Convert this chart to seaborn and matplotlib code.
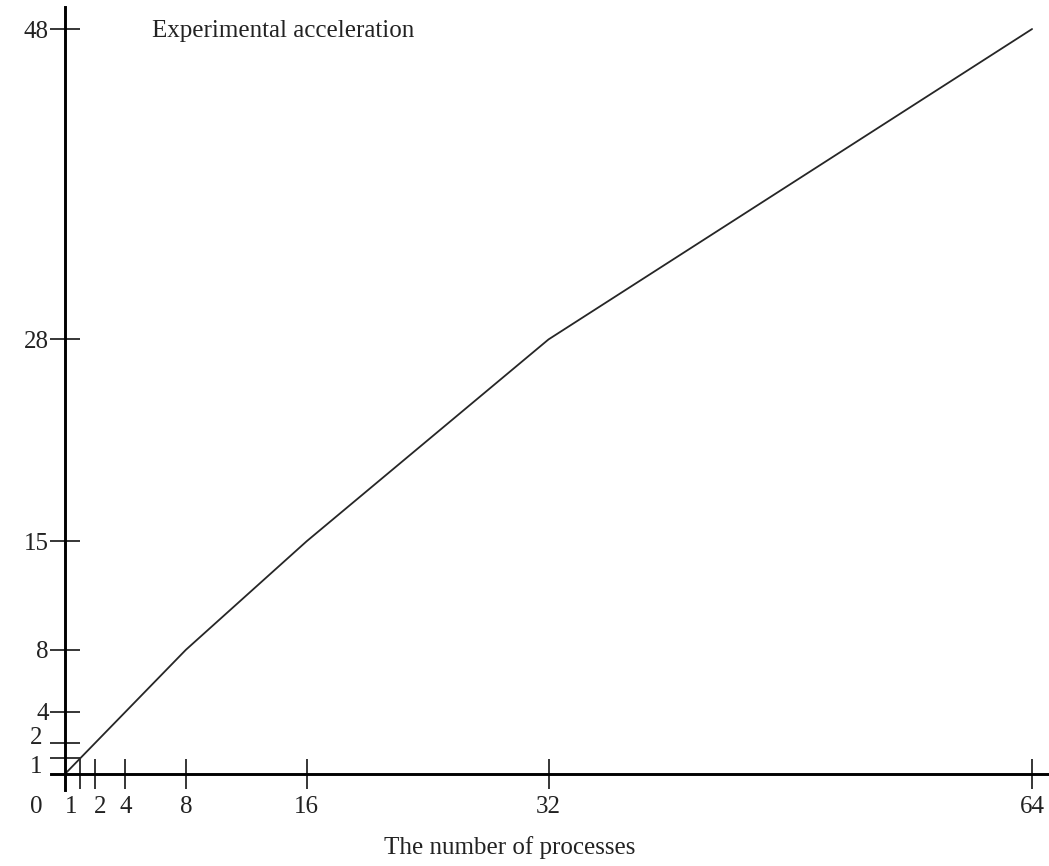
import matplotlib
matplotlib.use("Agg")
import pandas as pd
import seaborn as sns
import matplotlib.pyplot as plt

# data
processes = [0, 1, 2, 4, 8, 16, 32, 64]
acceleration = [0, 1, 2, 4, 8, 15, 28, 48]
x_ticks = [1, 2, 4, 8, 16, 32, 64]
y_ticks = [1, 2, 4, 8, 15, 28, 48]

df = pd.DataFrame({'processes': processes, 'acceleration': acceleration})

sns.set_style('white')
plt.rcParams['font.family'] = ['Liberation Serif', 'DejaVu Serif']

fig = plt.figure(figsize=(10.49, 8.66), dpi=100)
ax = fig.add_axes([0, 0, 1, 1])

sns.lineplot(x='processes', y='acceleration', data=df, ax=ax,
             color='#262626', linewidth=1.3)

# axis limits so the origin lands where the reference puts it
ax.set_xlim(-4.30, 65.12)
ax.set_ylim(-5.93, 49.87)

for side in ['top', 'right']:
    ax.spines[side].set_visible(False)
ax.spines['left'].set_position(('data', 0))
ax.spines['bottom'].set_position(('data', 0))
ax.spines['left'].set_bounds(-1.03, 49.4)
ax.spines['bottom'].set_bounds(-0.92, 65.12)
for side in ['left', 'bottom']:
    ax.spines[side].set_linewidth(2.1)
    ax.spines[side].set_color('black')

# labels for 1 and 2 are nudged apart in the reference, so they are placed by hand
ax.set_xticks(x_ticks)
ax.set_yticks(y_ticks)
ax.set_xticklabels(['' if v in (1, 2) else str(v) for v in x_ticks])
ax.set_yticklabels(['' if v in (1, 2) else str(v) for v in y_ticks])
ax.tick_params(axis='both', direction='inout', length=21.6, width=1.1,
               color='black', labelsize=18, labelcolor='#222222',
               bottom=True, left=True)
ax.tick_params(axis='x', pad=5)
ax.tick_params(axis='y', pad=0.8)
ax.set_xlabel('')
ax.set_ylabel('')

lab = dict(textcoords='offset points', ha='center', va='center',
           fontsize=18, color='#222222')
ax.annotate('0', xy=(0, 0), xytext=(-20.9, -24), **lab)
ax.annotate('1', xy=(1, 0), xytext=(-6.2, -24), **lab)
ax.annotate('2', xy=(2, 0), xytext=(3.6, -24), **lab)
ax.annotate('1', xy=(0, 1), xytext=(-20.9, -6.5), **lab)
ax.annotate('2', xy=(0, 2), xytext=(-20.9, 3.6), **lab)

fig.text(152 / 1049, 1 - 31 / 866, 'Experimental acceleration',
         ha='left', va='center', fontsize=18, color='#222222')
fig.text(510 / 1049, 1 - 848 / 866, 'The number of processes',
         ha='center', va='center', fontsize=18, color='#222222')

fig.savefig('out.png', dpi=100)
